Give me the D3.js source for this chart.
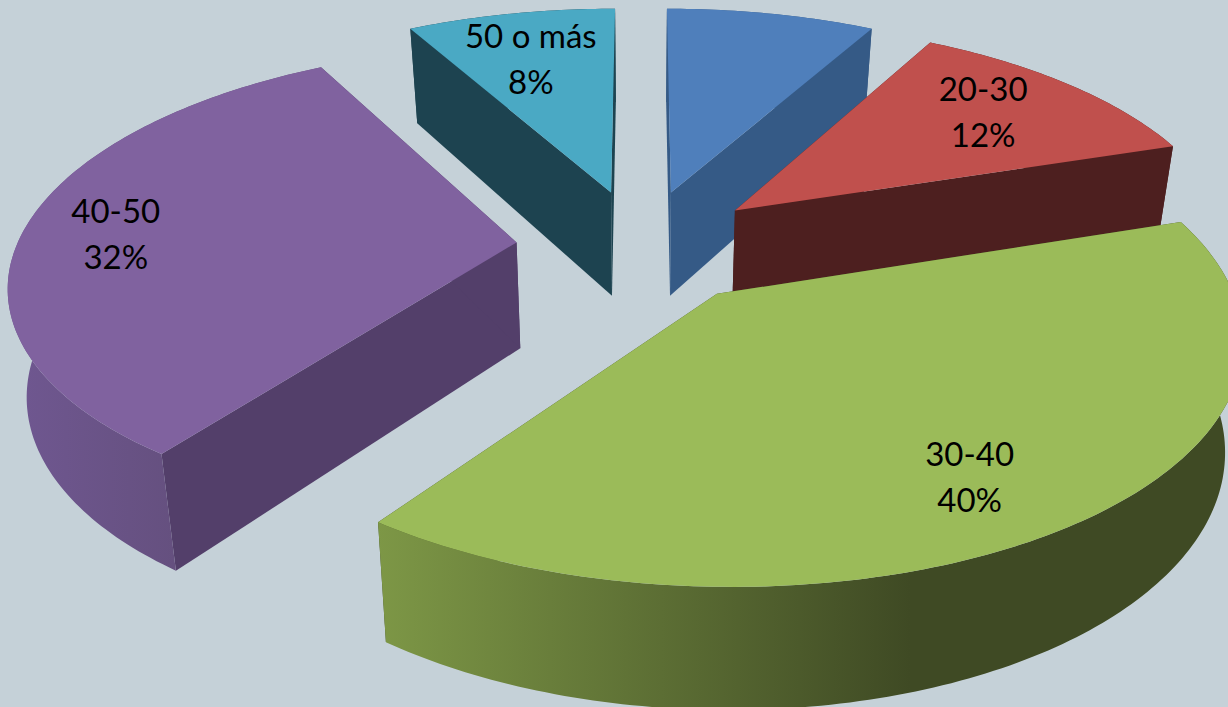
<!DOCTYPE html>
<html><head><meta charset="utf-8">
<script src="https://cdn.jsdelivr.net/npm/d3@7"></script>
<style>html,body{margin:0;padding:0;background:#c5d1d8;overflow:hidden}svg{display:block}</style>
</head><body><svg id="c" width="1228" height="707"></svg>
<script>
// data
const categories = ["", "20-30", "30-40", "40-50", "50 o más"];
const values = [8, 12, 40, 32, 8];
const percentLabels = ["", "12%", "40%", "32%", "8%"];
// styles
const topColors  = ["#4f7fbb", "#c0504d", "#9bbb59", "#80629f", "#4aa9c4"];
const sideColors = ["#355a86", "#4d1f1f", "#3f4a24", "#533f6a", "#1d4350"];
const rimLeft    = ["#355a86", "#4d1f1f", "#7d9746", "#6f5790", "#1d4350"];
const rimRight   = ["#355a86", "#4d1f1f", "#3f4a24", "#65507f", "#1d4350"];
const drawOrder  = [4, 0, 1, 3, 2];
// label placement: angular tweak (deg) from mid-angle and radial fraction
const labelTweak = [0, -1, 4, -1.2, -1];
const labelFrac  = [0, .74, .79, .81, .72];

// projection of the tilted, perspective pie
const W = 1228, H = 707, cx = 641, cy = 246, R = 500, tilt = .458, persp = .16, depth = 106, explode = 125, converge = .03;
function project(X, Y, z) {
  const k = 1 / (1 - persp * Y / R);
  return [cx + X * k * (1 - converge * z), cy + Y * tilt * k + depth * Math.pow(k, .7) * z];
}
const pie = d3.pie().sort(null).value(d => d).startAngle(0).endAngle(2 * Math.PI);
const arcs = pie(values);
const svg = d3.select("#c");
const defs = svg.append("defs");
const line = d3.line();

function apex(a) {
  const m = (a.startAngle + a.endAngle) / 2;
  return [explode * Math.sin(m), -explode * Math.cos(m)];
}
function rimPts(a, z, rev) {
  const o = apex(a), n = Math.ceil((a.endAngle - a.startAngle) * 60);
  const angle = d3.scaleLinear().domain([0, n]).range(rev ? [a.endAngle, a.startAngle] : [a.startAngle, a.endAngle]);
  return d3.range(n + 1).map(i => {
    const t = angle(i);
    return project(o[0] + R * Math.sin(t), o[1] - R * Math.cos(t), z);
  });
}
function apexPt(a, z) { const o = apex(a); return project(o[0], o[1], z); }

drawOrder.forEach(i => {
  const a = arcs[i];
  const g = svg.append("g");
  const topArc = rimPts(a, 0, false), botArc = rimPts(a, 1, true);
  const p0 = apexPt(a, 0), p1 = apexPt(a, 1);
  // inner faces
  g.append("path").attr("fill", sideColors[i]).attr("d", line([p0, topArc[0], botArc[botArc.length - 1], p1]) + "Z");
  g.append("path").attr("fill", sideColors[i]).attr("d", line([p0, topArc[topArc.length - 1], botArc[0], p1]) + "Z");
  // outer rim
  const gid = "rim" + i;
  const xs = d3.extent(topArc, d => d[0]);
  const grad = defs.append("linearGradient").attr("id", gid).attr("gradientUnits", "userSpaceOnUse")
    .attr("x1", i === 2 ? xs[0] : d3.max([xs[0], 20])).attr("x2", i === 2 ? 910 : 175).attr("y1", 0).attr("y2", 0);
  grad.append("stop").attr("offset", 0).attr("stop-color", rimLeft[i]);
  grad.append("stop").attr("offset", 1).attr("stop-color", rimRight[i]);
  g.append("path").attr("fill", `url(#${gid})`).attr("d", line(topArc.concat(botArc)) + "Z");
  // top face
  g.append("path").attr("fill", topColors[i]).attr("d", line([p0].concat(topArc)) + "Z");
});

// labels
const labels = svg.append("g").attr("font-family", "Lato, 'Open Sans', sans-serif").attr("font-size", 33).attr("fill", "#000").attr("text-anchor", "middle");
arcs.forEach((a, i) => {
  if (!categories[i]) return;
  const o = apex(a), m = (a.startAngle + a.endAngle) / 2 + labelTweak[i] * Math.PI / 180, r = R * labelFrac[i];
  const p = project(o[0] + r * Math.sin(m), o[1] - r * Math.cos(m), 0);
  labels.append("text").attr("x", p[0]).attr("y", p[1] - 12).text(categories[i]);
  labels.append("text").attr("x", p[0]).attr("y", p[1] + 34).text(percentLabels[i]);
});
</script></body></html>
